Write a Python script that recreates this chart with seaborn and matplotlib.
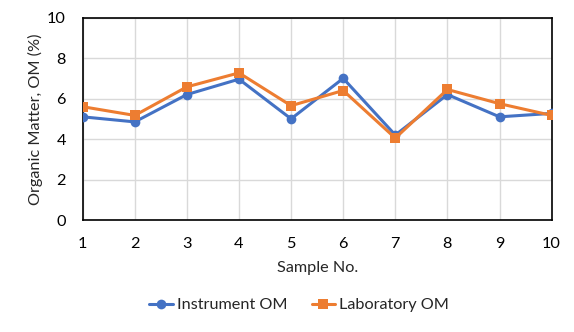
import matplotlib
matplotlib.use("Agg")
import matplotlib.pyplot as plt
import seaborn as sns
import pandas as pd

samples = [1, 2, 3, 4, 5, 6, 7, 8, 9, 10]
instrument_om = [5.10, 4.85, 6.20, 6.96, 5.00, 7.00, 4.20, 6.20, 5.10, 5.27]
laboratory_om = [5.60, 5.17, 6.58, 7.27, 5.65, 6.40, 4.05, 6.45, 5.75, 5.17]
series_names = ["Instrument OM", "Laboratory OM"]
y_ticks = [0, 2, 4, 6, 8, 10]

sns.set_theme(style="white")
plt.rcParams['font.family'] = ['Lato', 'DejaVu Sans']

df = pd.DataFrame({
    "Sample": samples * 2,
    "OM": instrument_om + laboratory_om,
    "Series": [series_names[0]] * len(samples) + [series_names[1]] * len(samples),
})

fig = plt.figure(figsize=(5.74, 3.32), dpi=100)
ax = fig.add_axes([0.144, 0.337, 0.817, 0.61])

palette = {series_names[0]: "#4472C4", series_names[1]: "#ED7D31"}
markers = {series_names[0]: "o", series_names[1]: "s"}
sns.lineplot(data=df, x="Sample", y="OM", hue="Series", style="Series",
             palette=palette, markers=markers, dashes=False, linewidth=2.2,
             markersize=7, markeredgewidth=0, ax=ax, zorder=3)

fs = 11.7
ax.set_xlim(1, 10)
ax.set_ylim(0, 10)
ax.set_xticks(samples)
ax.set_yticks(y_ticks)
ax.grid(True, color="#D9D9D9", linewidth=1)
ax.set_axisbelow(True)
for s in ax.spines.values():
    s.set_color("#000000")
    s.set_linewidth(1.2)
ax.tick_params(axis="x", labelsize=fs, length=0, pad=12, colors="#000000")
ax.tick_params(axis="y", labelsize=fs, length=0, pad=12, colors="#000000")
ax.set_xlabel("Sample No.", fontsize=fs, labelpad=7)
ax.set_ylabel("Organic Matter, OM (%)", fontsize=fs, labelpad=3)

handles, labels = ax.get_legend_handles_labels()
if ax.get_legend() is not None:
    ax.get_legend().remove()
pairs = [(h, l) for h, l in zip(handles, labels) if l in series_names]
fig.legend([p[0] for p in pairs], [p[1] for p in pairs], loc="center",
           bbox_to_anchor=(0.521, 0.081), ncol=2, frameon=False, fontsize=fs,
           handlelength=1.45, columnspacing=1.5, handletextpad=0.25)

fig.savefig("out.png", dpi=100)
